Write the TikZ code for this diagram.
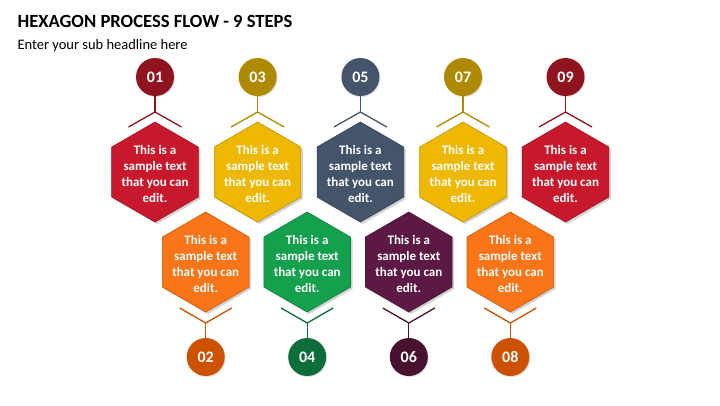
\documentclass[tikz,border=0pt]{standalone}
\usepackage{fontspec}
\setmainfont{Carlito}
\usetikzlibrary{shapes.geometric,shadows}
\definecolor{redH}{HTML}{C8192C}
\definecolor{redC}{HTML}{8F1420}
\definecolor{yelH}{HTML}{EEB800}
\definecolor{yelC}{HTML}{AE8A00}
\definecolor{slaH}{HTML}{44546A}
\definecolor{slaC}{HTML}{44546A}
\definecolor{oraH}{HTML}{FA7418}
\definecolor{oraC}{HTML}{CC5200}
\definecolor{grnH}{HTML}{14A04C}
\definecolor{grnC}{HTML}{0E6E3A}
\definecolor{purH}{HTML}{5C1943}
\definecolor{purC}{HTML}{48112F}
\begin{document}
\begin{tikzpicture}[x=1pt,y=-1pt,
  hexbox/.style={regular polygon, regular polygon sides=6, shape border rotate=30,
    minimum size=100pt, inner sep=0pt, outer sep=0pt, fill=#1, draw=#1!80!black, line width=0.6pt,
    drop shadow={opacity=0.35, shadow xshift=2pt, shadow yshift=-2pt}},
  hextext/.style={text=white, align=center, inner sep=0pt,
    font=\bfseries\fontsize{13}{16}\selectfont},
  numdot/.style={circle, minimum size=38pt, inner sep=0pt, fill=#1, text=white,
    font=\bfseries\fontsize{16}{18}\selectfont,
    drop shadow={opacity=0.25, shadow xshift=1pt, shadow yshift=-1pt}},
  conn/.style={draw=#1, line width=1.3pt}
]
\useasboundingbox[fill=white] (0,0) rectangle (720,405);
\node[anchor=base west, font=\bfseries\fontsize{18.6}{22}\selectfont] (title) at (14,27.7) {HEXAGON PROCESS FLOW - 9 STEPS};
\node[anchor=base west, font=\fontsize{14.5}{17}\selectfont] (sub) at (14,49.3) {Enter your sub headline here};

% top row
\foreach \i/\x/\hc/\cc/\n in {1/155/redH/redC/01, 3/257.6/yelH/yelC/03, 5/360.4/slaH/slaC/05, 7/463/yelH/yelC/07, 9/565.5/redH/redC/09}{
  \node[hexbox=\hc] (h\i) at (\x,172) {};
  \node[hextext] (t\i) at ([yshift=-1.5pt]h\i.center) {This is a\\sample text\\that you can\\edit.};
  \node[numdot=\cc] (c\i) at (\x,77) {\n};
  \coordinate (b\i) at (\x,112);
  \coordinate (l\i) at (\x-26.5,127);
  \coordinate (r\i) at (\x+26.5,127);
  \draw[conn=\cc] (c\i) -- (b\i);
  \draw[conn=\cc] (l\i) -- (b\i) -- (r\i);
}
% bottom row
\foreach \i/\x/\hc/\cc/\n in {2/205.7/oraH/oraC/02, 4/307.2/grnH/grnC/04, 6/408.8/purH/purC/06, 8/510.3/oraH/oraC/08}{
  \node[hexbox=\hc] (h\i) at (\x,262) {};
  \node[hextext] (t\i) at ([yshift=-1.5pt]h\i.center) {This is a\\sample text\\that you can\\edit.};
  \node[numdot=\cc] (c\i) at (\x,357) {\n};
  \coordinate (b\i) at (\x,323);
  \coordinate (l\i) at (\x-26,308);
  \coordinate (r\i) at (\x+26,308);
  \draw[conn=\cc] (c\i) -- (b\i);
  \draw[conn=\cc] (l\i) -- (b\i) -- (r\i);
}
\end{tikzpicture}
\end{document}
